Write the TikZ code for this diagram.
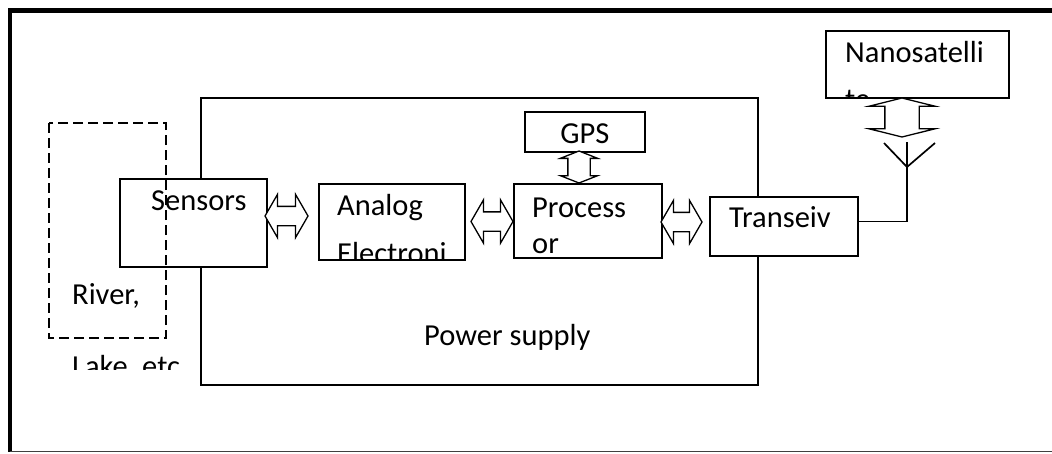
\documentclass[tikz,border=0pt]{standalone}
\usepackage{fontspec}
\setmainfont{Carlito}
\usetikzlibrary{shapes.arrows}

\tikzset{
  box/.style={draw, fill=white, line width=1.7pt, inner sep=0pt, anchor=north west},
  lbl/.style={anchor=base west, inner sep=0pt, font=\fontsize{30.5}{36}\selectfont},
  dblarrow/.style={double arrow, draw, fill=white, line width=1.3pt, inner sep=0pt, minimum width=0pt},
}

\begin{document}
\begin{tikzpicture}[x=1pt, y=-1pt]
\useasboundingbox (0,0) rectangle (1052,453);

% Page frame
\draw[line width=5pt] (10,10) -- (1052,10);
\draw[line width=4pt] (10,8) -- (10,452);
\draw[line width=1.5pt, black!75] (10,451.5) -- (1052,451.5);

% Big enclosing block
\node[box, minimum width=557pt, minimum height=287pt] (main) at (200,97) {};
\node[lbl] (power) at (424,345) {Power supply};

% Blocks
\node[box, minimum width=147pt, minimum height=88pt] (sensors) at (119,178) {};
\node[box, minimum width=146pt, minimum height=76pt] (analog) at (318,183) {};
\node[box, minimum width=148pt, minimum height=74pt] (proc) at (513,183) {};
\node[box, minimum width=120pt, minimum height=40pt] (gps) at (524,111) {};
\node[box, minimum width=148pt, minimum height=59pt] (trans) at (709,196) {};
\node[box, minimum width=183pt, minimum height=67pt] (nano) at (825,30) {};

% Water body (dashed)
\draw[line width=1.7pt, dash pattern=on 10pt off 5pt] (49,123) rectangle (166,338);

% Block texts
\node[lbl] (sensorstxt) at (151,210) {Sensors};
\node[lbl] (rivertxt) at (72,304) {River,};
\begin{scope}
  \clip (40,340) rectangle (190,369);
  \node[lbl] (laketxt) at (72,376) {Lake, etc};
\end{scope}
\begin{scope}
  \clip (analog.south west) rectangle (analog.north east);
  \node[lbl] (analogtxt) at (337,215) {Analog};
  \node[lbl] (electxt) at (337,263) {Electroni};
\end{scope}
\node[lbl] (proctxt) at (532,217) {Process};
\node[lbl] (ortxt) at (532,253) {or};
\node[lbl, anchor=base] (gpstxt) at (gps.center |- 0,143) {GPS};
\node[lbl] (transtxt) at (729,227) {Transeiv};
\begin{scope}
  \clip (nano.south west) rectangle (nano.north east);
  \node[lbl] (nanotxt) at (845,62) {Nanosatelli};
  \node[lbl] (tetxt) at (845,109) {te};
\end{scope}

% Block arrows between the blocks
\node[dblarrow, inner ysep=9pt, double arrow head extend=12pt, double arrow tip angle=120, minimum height=43pt] (a1) at (286.5,216) {};
\node[dblarrow, inner ysep=9pt, double arrow head extend=12pt, double arrow tip angle=120, minimum height=42pt] (a2) at (492,221.5) {};
\node[dblarrow, inner ysep=9pt, double arrow head extend=12pt, double arrow tip angle=120, minimum height=41pt] (a3) at (681.5,222) {};
\node[dblarrow, rotate=90, inner ysep=10.5pt, double arrow head extend=7.5pt, double arrow tip angle=137, minimum height=32pt] (a4) at (579,167) {};
\node[dblarrow, rotate=90, inner ysep=16.5pt, double arrow head extend=16pt, double arrow tip angle=152, minimum height=39pt] (a5) at (902,117.5) {};

% Antenna
\coordinate (ant) at (907,167);
\draw[line width=1.7pt] ([yshift=5pt]trans.east) -| (ant);
\draw[line width=1.7pt] (ant) -- ++(0,-25);
\draw[line width=1.7pt] (ant) -- ++(-23,-24);
\draw[line width=1.7pt] (ant) -- ++(28,-24);
\end{tikzpicture}
\end{document}
